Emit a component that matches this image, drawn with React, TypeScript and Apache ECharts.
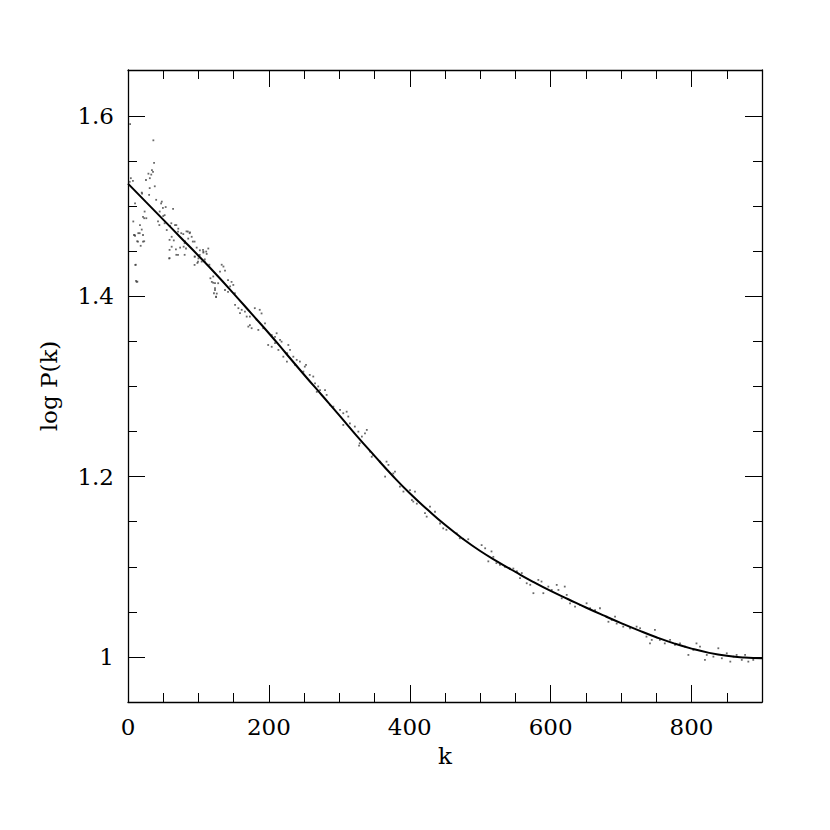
import React, { useEffect, useRef } from "react";
import * as echarts from "echarts";

const fitK = [0, 25, 50, 75, 100, 125, 150, 175, 200, 225, 250, 275, 300, 325, 350, 375, 400, 425, 450, 475, 500, 525, 550, 575, 600, 625, 650, 675, 700, 725, 750, 775, 800, 825, 850, 875, 900];
const fitValues = [1.525, 1.505, 1.485, 1.465, 1.445, 1.4245, 1.403, 1.381, 1.359, 1.336, 1.313, 1.2905, 1.268, 1.245, 1.223, 1.2015, 1.1815, 1.1635, 1.1465, 1.1312, 1.1175, 1.1055, 1.0942, 1.0833, 1.0732, 1.064, 1.0548, 1.046, 1.0375, 1.0294, 1.0218, 1.015, 1.0092, 1.0045, 1.0012, 0.9993, 0.9986];

const dotPoints: [number, number][] = [
  [3, 1.591], [36, 1.573], [37, 1.548], [34, 1.54], [31, 1.531], [29, 1.536], [33, 1.535], [35.5, 1.538], [25.5, 1.529], [4, 1.531], [7, 1.528], [2.4, 1.527], [38, 1.522], [30.8, 1.52], [19.5, 1.515], [30, 1.5125], [20, 1.514], [10, 1.503], [48, 1.505], [40, 1.507], [64, 1.497], [53.5, 1.499], [47, 1.503], [49.5, 1.498], [45, 1.494], [50, 1.489], [52, 1.49], [23.6, 1.494], [21.3, 1.488], [26, 1.4866], [7.5, 1.483], [23, 1.4866], [17, 1.479], [19.5, 1.474], [10, 1.467], [14.6, 1.47], [13, 1.461], [18, 1.456], [23, 1.461], [11, 1.435], [12.3, 1.416], [42.6, 1.483], [44.5, 1.479], [59.6, 1.478], [66.7, 1.479], [71.4, 1.475], [78.5, 1.469], [83, 1.472], [88, 1.471], [90.4, 1.466], [85.5, 1.464], [81, 1.461], [55, 1.4735], [62, 1.466], [65, 1.462], [62, 1.455], [68, 1.452], [74, 1.454], [58.5, 1.442], [71, 1.446], [79, 1.455], [82.3, 1.453], [97.5, 1.454], [102, 1.451], [107, 1.4495], [114, 1.453], [95, 1.444], [100, 1.442], [104.6, 1.4385], [109, 1.441], [98.5, 1.437], [117, 1.42], [121, 1.415], [123.5, 1.409], [126, 1.403], [125, 1.399], [8.5, 1.468], [11.4, 1.417], [61.5, 1.481], [52, 1.481], [68.6, 1.479], [75.6, 1.47], [71, 1.4718], [16.6, 1.47], [21.3, 1.468], [9.5, 1.468], [14.2, 1.4607], [21.3, 1.4607], [59, 1.4626], [80.4, 1.4589], [85, 1.4718], [87.5, 1.47], [92, 1.4607], [94.5, 1.4607], [106.5, 1.4515], [111, 1.4496], [101.8, 1.4459], [59, 1.4515], [68.6, 1.446], [59, 1.4423], [80.4, 1.446], [94.5, 1.444], [99.4, 1.4385], [108.8, 1.4385], [94.5, 1.4348], [10.4, 1.4348], [13.3, 1.4163], [107, 1.4485], [111.7, 1.447], [115.5, 1.435], [133, 1.435], [135.5, 1.433], [130.6, 1.4274], [137.7, 1.4285], [121, 1.422], [119, 1.416], [123.5, 1.4145], [128, 1.4145], [123.5, 1.407], [125, 1.3997], [122, 1.4034], [142, 1.418], [147, 1.416], [149.5, 1.4126], [145, 1.411], [137.7, 1.407], [142, 1.405], [151.7, 1.4034], [152, 1.3905], [156.7, 1.3868], [161.4, 1.385], [159, 1.3813], [166, 1.383], [168.5, 1.3775], [173, 1.3775], [173, 1.368], [180, 1.3868], [187, 1.385], [189.6, 1.381], [182.6, 1.374], [170.8, 1.3664], [175.5, 1.3646], [185, 1.3627], [194.5, 1.37], [192, 1.3646], [204, 1.357], [208.7, 1.355], [211, 1.359], [215.8, 1.3516], [218, 1.3497], [199, 1.346], [204, 1.344], [208.7, 1.348], [213.5, 1.3405], [227.6, 1.346], [230, 1.3405], [226, 1.3369], [220.5, 1.333], [234.7, 1.333], [239.5, 1.3295], [244, 1.3276], [237, 1.324], [225.6, 1.3276], [251, 1.322], [249, 1.3165], [258, 1.3128],
  [252.7, 1.324], [263, 1.311], [265.5, 1.3035], [270, 1.3], [272.6, 1.296], [279.7, 1.296], [282, 1.2906], [268, 1.294], [286.8, 1.2795], [291.5, 1.2776], [301, 1.274], [305.6, 1.2703], [310.4, 1.272], [312.7, 1.2666], [305.6, 1.2573], [315, 1.259], [322, 1.2555], [327, 1.2499], [332, 1.2444], [336.4, 1.248], [339, 1.2518], [329, 1.237], [328, 1.2344], [343.6, 1.2277], [346, 1.222], [348, 1.224], [358, 1.2166], [367, 1.2166], [369.7, 1.213], [365, 1.2], [376.6, 1.2035], [379, 1.2055], [386, 1.189], [391, 1.1834], [400.3, 1.185], [407.4, 1.1834], [405, 1.1723], [410, 1.17], [403, 1.174], [421.6, 1.1594], [424, 1.1556], [428.7, 1.1667], [435.8, 1.161], [443, 1.148], [447.5, 1.1426], [452, 1.141], [466.6, 1.137], [471, 1.1316], [483, 1.1305],
  [502, 1.124], [507, 1.1205], [516, 1.117], [518.6, 1.111], [511.5, 1.106], [523, 1.104], [528, 1.102], [535, 1.1], [542, 1.098], [547, 1.098], [552, 1.095], [559, 1.093], [556.5, 1.0873], [566, 1.0817], [571, 1.08], [575.5, 1.0707], [582.5, 1.0854], [587, 1.0836], [589.6, 1.0707], [596.7, 1.078], [601.5, 1.0743], [608.6, 1.0799], [611, 1.0743], [620, 1.078], [615.7, 1.065], [622.8, 1.0688], [627.5, 1.0595], [634.6, 1.0558], [641.7, 1.0577], [651, 1.0595], [656, 1.054], [663, 1.052], [670, 1.054], [679.6, 1.0447], [682, 1.039], [686.7, 1.041], [691.4, 1.0447], [693.7, 1.037], [703, 1.0336], [712.7, 1.0318], [722, 1.0336], [727, 1.0318], [736, 1.0225], [741, 1.015], [743.5, 1.0189], [748, 1.03], [755, 1.0189], [762, 1.015], [769.5, 1.0189], [776.5, 1.0133], [783.6, 1.015], [790.7, 1.0114], [795.5, 1.0022], [802.5, 1.0078], [807, 1.015], [812, 1.0114], [819, 0.9967], [821.6, 1.0022], [831, 1.0003], [838, 1.0096], [843, 0.9985], [850, 1.004], [855, 0.9948], [859.6, 1.0003], [864, 1.0022], [871.3, 0.9967], [876, 1.0022], [880.6, 0.9948], [887.6, 0.9967],
];

const xMajorTicks = [0, 200, 400, 600, 800];
const xMinorTicks = [50, 100, 150, 250, 300, 350, 450, 500, 550, 650, 700, 750, 850];
const yMajorTicks = [1, 1.2, 1.4, 1.6];
const yMinorTicks = [1.05, 1.1, 1.15, 1.25, 1.3, 1.35, 1.45, 1.5, 1.55];

const FONT = "DejaVu Serif";
const INK = "#000";

export default function App() {
  const ref = useRef<HTMLDivElement>(null);
  useEffect(() => {
    if (!ref.current) return;
    const chart = echarts.init(ref.current, null, { renderer: "svg" });
    const xRange = { type: "value", min: 0, max: 900, splitLine: { show: false } };
    const yRange = { type: "value", min: 0.95, max: 1.651, splitLine: { show: false } };
    const tickAxis = (base: any, position: string, values: number[], len: number, showLine: boolean) => ({
      ...base,
      position,
      axisLine: { show: showLine, onZero: false, lineStyle: { color: INK, width: 1.3 } },
      axisTick: { show: true, inside: true, length: len, customValues: values, lineStyle: { color: INK, width: 1 } },
      axisLabel: { show: false },
    });
    chart.setOption({
      animation: false,
      backgroundColor: "#fff",
      grid: { left: 128, top: 70, right: 68, bottom: 128, containLabel: false },
      xAxis: [
        {
          ...xRange,
          position: "bottom",
          name: "k",
          nameLocation: "middle",
          nameGap: 42,
          nameTextStyle: { fontFamily: FONT, fontSize: 23, color: INK },
          axisLine: { show: true, onZero: false, lineStyle: { color: INK, width: 1.3 } },
          axisTick: { show: true, inside: true, length: 17, customValues: xMajorTicks, lineStyle: { color: INK, width: 1 } },
          axisLabel: { show: true, customValues: xMajorTicks, margin: 13, fontFamily: FONT, fontSize: 23, color: INK },
        },
        tickAxis(xRange, "bottom", xMinorTicks, 9, false),
        tickAxis(xRange, "top", xMajorTicks, 17, true),
        tickAxis(xRange, "top", xMinorTicks, 9, false),
      ],
      yAxis: [
        {
          ...yRange,
          position: "left",
          name: "log P(k)",
          nameLocation: "middle",
          nameGap: 68,
          nameTextStyle: { fontFamily: FONT, fontSize: 23, color: INK },
          axisLine: { show: true, onZero: false, lineStyle: { color: INK, width: 1.3 } },
          axisTick: { show: true, inside: true, length: 17, customValues: yMajorTicks, lineStyle: { color: INK, width: 1 } },
          axisLabel: { show: true, customValues: yMajorTicks, margin: 14, fontFamily: FONT, fontSize: 23, color: INK },
        },
        tickAxis(yRange, "left", yMinorTicks, 9, false),
        tickAxis(yRange, "right", yMajorTicks, 17, true),
        tickAxis(yRange, "right", yMinorTicks, 9, false),
      ],
      series: [
        {
          type: "scatter",
          xAxisIndex: 0,
          yAxisIndex: 0,
          data: dotPoints,
          symbol: "rect",
          symbolSize: 1.8,
          itemStyle: { color: "#444" },
          silent: true,
        },
        {
          type: "line",
          xAxisIndex: 0,
          yAxisIndex: 0,
          data: fitK.map((k, i) => [k, fitValues[i]]),
          smooth: 0.5,
          showSymbol: false,
          lineStyle: { color: INK, width: 2 },
          silent: true,
        },
      ],
    });
    return () => chart.dispose();
  }, []);
  return <div ref={ref} style={{ width: 830, height: 830, position: "absolute", left: 0, top: 0 }} />;
}
